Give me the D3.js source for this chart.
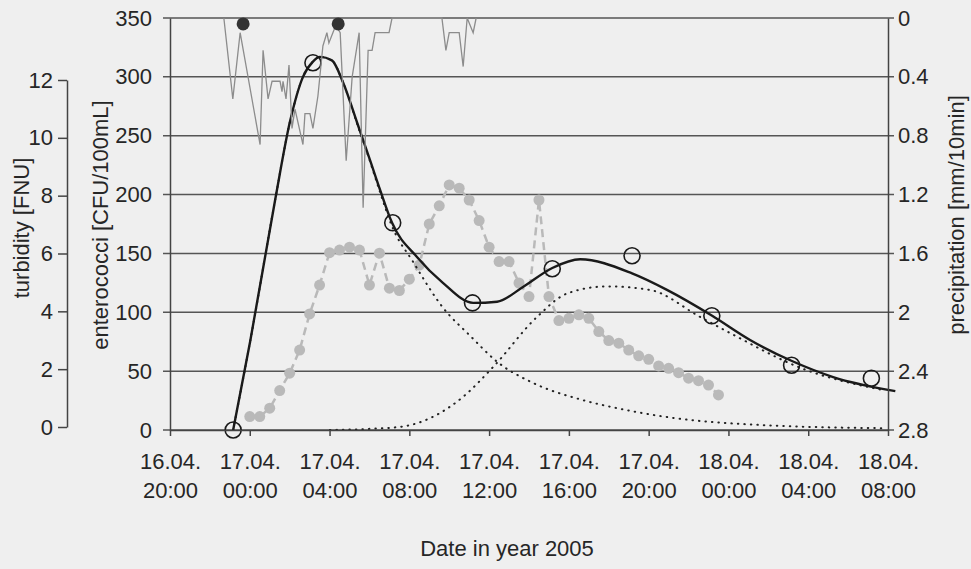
<!DOCTYPE html>
<html>
<head>
<meta charset="utf-8">
<script src="https://cdn.jsdelivr.net/npm/d3@7"></script>
<style>
  body { margin: 0; background: #efefef; }
  svg { display: block; }
  .tick text, .lbl { font-family: "Liberation Sans", Arial, sans-serif; font-size: 22px; fill: #262626; }
  .domain, .tick line { stroke: #444; stroke-width: 1.5; }
</style>
</head>
<body>
<div id="chart"></div>
<script>
var svgWidth = 971;
var svgHeight = 569;

var margin = { top: 18, right: 83, bottom: 139, left: 170 };
var width = svgWidth - margin.left - margin.right;
var height = svgHeight - margin.top - margin.bottom;

// x axis ticks
var xTickTimes = ["16.04 20:00", "17.04 00:00", "17.04 04:00", "17.04 08:00", "17.04 12:00",
  "17.04 16:00", "17.04 20:00", "18.04 00:00", "18.04 04:00", "18.04 08:00"];

// enterococci samples (open circles)
var sampleTimes = ["16.04 23:10", "17.04 03:10", "17.04 07:10", "17.04 11:10", "17.04 15:10",
  "17.04 19:10", "17.04 23:10", "18.04 03:10", "18.04 07:10"];
var sampleValues = [0, 312, 176, 108, 137, 148, 97, 55, 44];

// model fit (solid) and its two components (dotted)
var fitTimes = ["16.04 23:10", "17.04 00:01", "17.04 01:16", "17.04 02:01", "17.04 02:40", "17.04 03:10",
  "17.04 03:31", "17.04 04:07", "17.04 04:41", "17.04 05:23", "17.04 06:02", "17.04 06:32", "17.04 07:08",
  "17.04 08:23", "17.04 09:41", "17.04 11:12", "17.04 12:24", "17.04 13:42", "17.04 15:10", "17.04 16:34",
  "17.04 19:10", "17.04 20:55", "17.04 23:11", "18.04 01:05", "18.04 03:11", "18.04 05:15", "18.04 08:22"];
var fitValues = [0, 75, 195, 262, 300, 313, 317, 314, 295, 261, 229, 204, 176,
  147, 125, 108, 109, 121.5, 137.6, 145, 133, 119, 97, 76.5, 58.6, 45, 33];

var comp1Times = ["16.04 23:10", "17.04 00:01", "17.04 01:16", "17.04 02:01", "17.04 02:40", "17.04 03:10",
  "17.04 03:31", "17.04 04:07", "17.04 04:41", "17.04 05:23", "17.04 06:02", "17.04 06:32", "17.04 07:08",
  "17.04 08:11", "17.04 09:41", "17.04 11:03", "17.04 12:24", "17.04 14:12", "17.04 16:34", "17.04 18:34",
  "17.04 20:55", "18.04 01:56", "18.04 07:52"];
var comp1Values = [0, 75, 195, 262, 300, 313, 317, 314, 295, 260, 228, 202, 173,
  143, 104, 80, 58, 40, 26, 18, 11, 4, 1.5];

var comp2Times = ["17.04 04:01", "17.04 06:02", "17.04 07:41", "17.04 09:02", "17.04 10:41", "17.04 12:12",
  "17.04 14:24", "17.04 15:55", "17.04 17:55", "17.04 20:04", "17.04 22:35", "18.04 00:14", "18.04 03:35",
  "18.04 07:52"];
var comp2Values = [0, 1, 3, 10, 28, 53.5, 96, 116, 122, 119, 96, 81, 53, 33.5];

// turbidity, every 30 min from 17.04 00:00
var turbStart = "17.04 00:00";
var turbStepMin = 30;
var turbValues = [0.36, 0.36, 0.65, 1.26, 1.86, 2.66, 3.91, 4.91, 6.03, 6.12, 6.22, 6.12,
  4.91, 6.01, 4.80, 4.72, 5.11, 5.60, 7.02, 7.65, 8.37, 8.26, 7.85, 7.14,
  6.22, 5.72, 5.72, 4.98, 4.51, 7.85, 4.51, 3.68, 3.76, 3.88, 3.76, 3.30,
  2.99, 2.90, 2.66, 2.46, 2.34, 2.11, 2.03, 1.88, 1.69, 1.60, 1.45, 1.11];

// precipitation (mm/10min)
var precipTimes = ["16.04 22:42", "16.04 23:09", "16.04 23:31", "17.04 00:31", "17.04 00:40", "17.04 00:55",
  "17.04 01:07", "17.04 01:31", "17.04 01:37", "17.04 01:40", "17.04 01:49", "17.04 01:58", "17.04 02:07",
  "17.04 02:16", "17.04 02:40", "17.04 02:46", "17.04 03:01", "17.04 03:10", "17.04 03:25", "17.04 03:40",
  "17.04 03:52", "17.04 03:58", "17.04 04:10", "17.04 04:19", "17.04 04:32", "17.04 04:50", "17.04 05:08",
  "17.04 05:29", "17.04 05:41", "17.04 05:56", "17.04 06:08", "17.04 06:17", "17.04 06:59", "17.04 07:08",
  "17.04 09:38", "17.04 09:50", "17.04 10:00", "17.04 10:30", "17.04 10:42", "17.04 10:54", "17.04 11:12",
  "17.04 11:21"];
var precipValues = [0, 0.55, 0.1, 0.86, 0.22, 0.55, 0.43, 0.43, 0.5, 0.43, 0.55, 0.32, 0.75,
  0.62, 0.86, 0.65, 0.65, 0.75, 0.53, 0.19, 0.1, 0.17, 0.1, 0.05, 0.1, 0.97, 0.4,
  0.1, 1.29, 0.22, 0.22, 0.1, 0.1, 0, 0, 0.22, 0.1, 0.1, 0.33, 0, 0.1, 0];

// black dots at the top
var markTimes = ["16.04 23:40", "17.04 04:26"];
var markLevel = 345;

var entTicks = [0, 50, 100, 150, 200, 250, 300, 350];
var turbTicks = [0, 2, 4, 6, 8, 10, 12];
var precipTicks = [0, 0.4, 0.8, 1.2, 1.6, 2, 2.4, 2.8];

var parseTime = d3.timeParse("%d.%m %H:%M");

var svg = d3.select("#chart")
  .append("svg")
  .attr("width", svgWidth)
  .attr("height", svgHeight);

var chart = svg.append("g")
  .attr("transform", `translate(${margin.left}, ${margin.top})`);

var xScale = d3.scaleTime()
  .domain([parseTime(xTickTimes[0]), parseTime(xTickTimes[xTickTimes.length - 1])])
  .range([0, width]);

var yEnt = d3.scaleLinear().domain([0, 350]).range([height, 0]);
var yTurb = d3.scaleLinear().domain([0, 12]).range([409, 62]);
var yPrecip = d3.scaleLinear().domain([0, 2.8]).range([0, height]);

// grid lines
chart.append("g")
  .selectAll("line")
  .data(entTicks)
  .enter()
  .append("line")
  .attr("x1", -7)
  .attr("x2", width + 6)
  .attr("y1", d => yEnt(d))
  .attr("y2", d => yEnt(d))
  .attr("stroke", "#555")
  .attr("stroke-width", 1.5);

// turbidity
var turbData = turbValues.map(function(v, i) {
  return { t: d3.timeMinute.offset(parseTime(turbStart), i * turbStepMin), v: v };
});

chart.append("path")
  .datum(turbData)
  .attr("fill", "none")
  .attr("stroke", "#b9b9b9")
  .attr("stroke-width", 2.5)
  .attr("stroke-dasharray", "8,5")
  .attr("d", d3.line().x(d => xScale(d.t)).y(d => yTurb(d.v)));

chart.append("g")
  .selectAll("circle")
  .data(turbData)
  .enter()
  .append("circle")
  .attr("cx", d => xScale(d.t))
  .attr("cy", d => yTurb(d.v))
  .attr("r", 5.5)
  .attr("fill", "#b9b9b9");

// model lines
function series(times, values) {
  return times.map(function(t, i) { return { t: parseTime(t), v: values[i] }; });
}

var modelLine = d3.line()
  .curve(d3.curveMonotoneX)
  .x(d => xScale(d.t))
  .y(d => yEnt(d.v));

[series(comp1Times, comp1Values), series(comp2Times, comp2Values)].forEach(function(s) {
  chart.append("path")
    .datum(s)
    .attr("fill", "none")
    .attr("stroke", "#222")
    .attr("stroke-width", 2)
    .attr("stroke-linecap", "round")
    .attr("stroke-dasharray", "0.5,6")
    .attr("d", modelLine);
});

chart.append("path")
  .datum(series(fitTimes, fitValues))
  .attr("fill", "none")
  .attr("stroke", "#1a1a1a")
  .attr("stroke-width", 2.4)
  .attr("d", modelLine);

chart.append("g")
  .selectAll("circle")
  .data(series(sampleTimes, sampleValues))
  .enter()
  .append("circle")
  .attr("cx", d => xScale(d.t))
  .attr("cy", d => yEnt(d.v))
  .attr("r", 8)
  .attr("fill", "none")
  .attr("stroke", "#1a1a1a")
  .attr("stroke-width", 1.6);

// precipitation
chart.append("path")
  .datum(series(precipTimes, precipValues))
  .attr("fill", "none")
  .attr("stroke", "#8c8c8c")
  .attr("stroke-width", 1.3)
  .attr("d", d3.line().x(d => xScale(d.t)).y(d => yPrecip(d.v)));

chart.append("g")
  .selectAll("circle")
  .data(markTimes)
  .enter()
  .append("circle")
  .attr("cx", d => xScale(parseTime(d)))
  .attr("cy", yEnt(markLevel))
  .attr("r", 6.5)
  .attr("fill", "#333");

// axes
chart.append("g")
  .call(d3.axisLeft(yEnt).tickValues(entTicks).tickSize(7).tickSizeOuter(0).tickPadding(11))
  .call(g => g.selectAll(".tick line").remove());

chart.append("g")
  .attr("transform", "translate(-103, 0)")
  .call(d3.axisLeft(yTurb).tickValues(turbTicks).tickSize(9).tickSizeOuter(0).tickPadding(5));

chart.append("g")
  .attr("transform", `translate(${width}, 0)`)
  .call(d3.axisRight(yPrecip).tickValues(precipTicks).tickSize(6).tickSizeOuter(0).tickPadding(4)
    .tickFormat(d => +d.toFixed(1)))
  .call(g => g.selectAll(".tick line").remove());

var xAxis = chart.append("g")
  .attr("transform", `translate(0, ${height})`)
  .call(d3.axisBottom(xScale).tickValues(xTickTimes.map(parseTime)).tickSize(6).tickSizeOuter(0)
    .tickFormat(""));

xAxis.selectAll(".tick").each(function(d, i) {
  var parts = xTickTimes[i].split(" ");
  var txt = d3.select(this).append("text")
    .attr("text-anchor", "middle");
  txt.append("tspan").attr("x", 0).attr("y", 39).text(parts[0] + ".");
  txt.append("tspan").attr("x", 0).attr("y", 68).text(parts[1]);
});

// axis titles
chart.append("text")
  .attr("class", "lbl")
  .attr("transform", "rotate(-90)")
  .attr("x", -210)
  .attr("y", -141)
  .attr("text-anchor", "middle")
  .text("turbidity [FNU]");

chart.append("text")
  .attr("class", "lbl")
  .attr("transform", "rotate(-90)")
  .attr("x", -207)
  .attr("y", -62)
  .attr("text-anchor", "middle")
  .text("enterococci [CFU/100mL]");

chart.append("text")
  .attr("class", "lbl")
  .attr("transform", "rotate(-90)")
  .attr("x", -197)
  .attr("y", width + 76)
  .attr("text-anchor", "middle")
  .text("precipitation [mm/10min]");

chart.append("text")
  .attr("class", "lbl")
  .attr("x", 337)
  .attr("y", 538)
  .attr("text-anchor", "middle")
  .text("Date in year 2005");
</script>
</body>
</html>
